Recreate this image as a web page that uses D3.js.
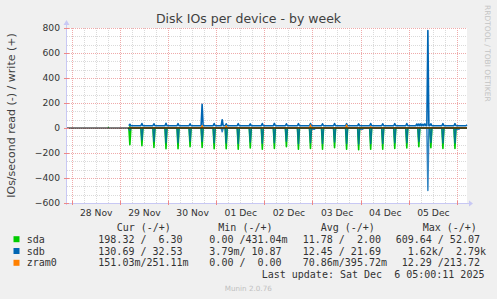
<!DOCTYPE html>
<html>
<head>
<meta charset="utf-8">
<script src="https://cdn.jsdelivr.net/npm/d3@7"></script>
<style>
  body { margin: 0; background: #f0f0f0; }
  svg { display: block; }
  text { white-space: pre; }
</style>
</head>
<body>
<svg id="chart" width="497" height="299"></svg>
<script>
var parse = d3.timeParse("%Y-%m-%d %H:%M");

var yTicks = [-600, -400, -200, 0, 200, 400, 600, 800];
var dayLabels = ["28 Nov", "29 Nov", "30 Nov", "01 Dec", "02 Dec", "03 Dec", "04 Dec", "05 Dec"];

// the recurring read bursts (every 6h)
var spikeTimes = [
  "2025-11-29 05:00", "2025-11-29 11:00", "2025-11-29 17:00", "2025-11-29 23:00",
  "2025-11-30 05:00", "2025-11-30 11:00", "2025-11-30 17:00", "2025-11-30 23:00",
  "2025-12-01 05:00", "2025-12-01 11:00", "2025-12-01 17:00", "2025-12-01 23:00",
  "2025-12-02 05:00", "2025-12-02 11:00", "2025-12-02 17:00", "2025-12-02 23:00",
  "2025-12-03 05:00", "2025-12-03 11:00", "2025-12-03 17:00", "2025-12-03 23:00",
  "2025-12-04 05:00", "2025-12-04 11:00", "2025-12-04 17:00", "2025-12-04 23:00",
  "2025-12-05 05:00", "2025-12-05 11:00", "2025-12-05 17:00", "2025-12-05 23:00"
];
// IOs/s at each burst (reads are drawn below zero)
var sdaRead  = [134, 142, 155, 165, 165, 150, 155, 165, 165, 170, 160, 170, 163, 150, 170, 163,
                170, 157, 170, 173, 170, 170, 163, 160, 150, 158, 163, 163];
var sdaWrite = [15, 3, 3, 3, 3, 3, 3, 3, 3, 3, 3, 3, 3, 3, 3, 3, 3, 3, 3, 3, 3, 3, 3, 3, 3, 3, 3, 3];
var sdbRead  = [20, 95, 108, 118, 118, 105, 107, 118, 120, 124, 112, 122, 118, 105, 125, 118,
                124, 112, 124, 128, 124, 124, 118, 118, 108, 115, 120, 120];
var sdbWrite = [30, 36, 34, 38, 35, 34, 190, 36, 34, 35, 33, 36, 37, 34, 35, 36,
                34, 36, 35, 33, 36, 34, 35, 36, 32, 34, 35, 35];

// odd samples outside the regular bursts
var sdbReadExtraTimes  = ["2025-12-01 03:00", "2025-12-03 00:00", "2025-12-03 00:30", "2025-12-03 01:00",
                          "2025-12-04 00:00", "2025-12-04 00:30", "2025-12-04 01:00", "2025-12-05 09:30",
                          "2025-12-06 00:00", "2025-12-06 00:30", "2025-12-06 01:00"];
var sdbReadExtra       = [30, 10, 10, 10, 10, 10, 10, 500, 10, 10, 10];
var sdbWriteExtraTimes = ["2025-12-01 03:00", "2025-12-05 04:00", "2025-12-05 06:00", "2025-12-05 07:00",
                          "2025-12-05 08:00", "2025-12-05 09:30", "2025-12-06 05:00"];
var sdbWriteExtra      = [66, 32, 33, 30, 34, 780, 26];
var zramWriteTimes     = ["2025-11-30 17:00", "2025-12-01 05:00", "2025-12-02 23:00", "2025-12-03 17:00", "2025-12-04 05:00"];
var zramWrite          = [20, 18, 25, 25, 12];
var sdaEarlyTimes      = ["2025-11-28 18:00", "2025-11-28 18:30"];
var sdaEarly           = [6, 6];

var baseSdaRead = 0.5, baseSdaWrite = 2, baseSdbRead = 0.5, baseSdbWrite = 18, baseZram = 0.4;

var names  = ["sda", "sdb", "zram0"];
var colors = ["#00cc00", "#0066b3", "#ff8000"];
var curVals = ["198.32 /  6.30 ", "130.69 / 32.53 ", "151.03m/251.11m"];
var minVals = ["  0.00 /431.04m", "  3.79m/ 10.87 ", "  0.00 /  0.00 "];
var avgVals = [" 11.78 /  2.00 ", " 12.45 / 21.69 ", " 70.86m/395.72m"];
var maxVals = ["609.64 / 52.07 ", "  1.62k/  2.79k", " 12.29 /213.72 "];

var startTime = parse("2025-11-27 21:40");
var endTime   = parse("2025-12-06 05:00");
var dataStart = parse("2025-11-29 04:30");

// ---- layout ----
var svg = d3.select("#chart");
var pL = 67, pR = 467, pT = 28, pB = 203;

var x = d3.scaleTime().domain([startTime, endTime]).range([pL, pR]);
var y = d3.scaleLinear().domain([-600, 800]).range([pB, pT]);

svg.append("rect").attr("width", 497).attr("height", 299).attr("fill", "#f0f0f0");
svg.append("rect").attr("x", pL).attr("y", pT).attr("width", pR - pL).attr("height", pB - pT).attr("fill", "#fff");

// grid
var minorY = [];
for (var v = -600; v <= 800; v += 200 / 3) {
  if (Math.abs(v / 200 - Math.round(v / 200)) > 0.01) minorY.push(v);
}
var minorX = d3.timeHour.every(6).range(startTime, endTime).filter(function(d) { return d.getHours() != 0; });
var days = d3.timeDay.range(d3.timeDay.ceil(startTime), endTime);

var grid = svg.append("g").attr("shape-rendering", "crispEdges");
grid.selectAll(".mx").data(minorX).enter().append("line")
  .attr("x1", function(d) { return Math.round(x(d)) + 0.5; }).attr("x2", function(d) { return Math.round(x(d)) + 0.5; })
  .attr("y1", pT).attr("y2", pB)
  .attr("stroke", "#dadada").attr("stroke-dasharray", "1,1");
grid.selectAll(".my").data(minorY).enter().append("line")
  .attr("y1", function(d) { return Math.round(y(d)) + 0.5; }).attr("y2", function(d) { return Math.round(y(d)) + 0.5; })
  .attr("x1", pL).attr("x2", pR)
  .attr("stroke", "#dadada").attr("stroke-dasharray", "1,1");
grid.selectAll(".Mx").data(days).enter().append("line")
  .attr("x1", function(d) { return Math.round(x(d)) + 0.5; }).attr("x2", function(d) { return Math.round(x(d)) + 0.5; })
  .attr("y1", pT).attr("y2", pB)
  .attr("stroke", "#efaaaa").attr("stroke-dasharray", "1,1");
grid.selectAll(".My").data(yTicks).enter().append("line")
  .attr("y1", function(d) { return Math.round(y(d)) + 0.5; }).attr("y2", function(d) { return Math.round(y(d)) + 0.5; })
  .attr("x1", pL).attr("x2", pR)
  .attr("stroke", "#efaaaa").attr("stroke-dasharray", "1,1");

// ---- series ----
var half = 30 * 60 * 1000;
function buildSeries(base, times, values, extraTimes, extraValues) {
  var m = new Map();
  var allT = times.concat(extraTimes || []), allV = values.concat(extraValues || []);
  allT.forEach(function(t, i) { m.set(+parse(t), allV[i]); });
  allT.forEach(function(t) {
    var k = +parse(t);
    [k - half, k + half].forEach(function(n) { if (!m.has(n) && n >= +dataStart && n <= +endTime) m.set(n, base); });
  });
  if (!m.has(+dataStart)) m.set(+dataStart, base);
  if (!m.has(+endTime)) m.set(+endTime, base);
  return Array.from(m, function(e) { return { t: new Date(e[0]), v: e[1] }; })
    .sort(function(a, b) { return a.t - b.t; });
}

var lineUp = d3.line().x(function(d) { return x(d.t); }).y(function(d) { return y(d.v); });
var lineDown = d3.line().x(function(d) { return x(d.t); }).y(function(d) { return y(-d.v); });

var series = [
  { pts: buildSeries(baseSdaRead, spikeTimes, sdaRead), line: lineDown, c: colors[0], w: 1.6, o: 1 },
  { pts: buildSeries(baseSdaWrite, spikeTimes, sdaWrite), line: lineUp, c: colors[0], w: 1, o: 1 },
  { pts: sdaEarlyTimes.map(function(t, i) { return { t: parse(t), v: sdaEarly[i] }; }), line: lineUp, c: colors[0], w: 1.2, o: 1 },
  { pts: buildSeries(baseSdbRead, spikeTimes, sdbRead, sdbReadExtraTimes, sdbReadExtra), line: lineDown, c: colors[1], w: 1.5, o: 0.8 },
  { pts: buildSeries(baseSdbWrite, spikeTimes, sdbWrite, sdbWriteExtraTimes, sdbWriteExtra), line: lineUp, c: colors[1], w: 1.6, o: 1 },
  { pts: buildSeries(baseZram, zramWriteTimes, zramWrite), line: lineUp, c: colors[2], w: 1.2, o: 1 }
];

svg.append("g").selectAll("path").data(series).enter().append("path")
  .attr("d", function(s) { return s.line(s.pts); })
  .attr("fill", "none")
  .attr("stroke", function(s) { return s.c; })
  .attr("stroke-width", function(s) { return s.w; })
  .attr("stroke-opacity", function(s) { return s.o; })
  .attr("stroke-linejoin", "round");

// zero rule
svg.append("line").attr("x1", pL).attr("x2", pR)
  .attr("y1", y(0)).attr("y2", y(0))
  .attr("stroke", "#000").attr("stroke-width", 1);

// axes lines + arrows
var axisColor = "#c8c8f4";
svg.append("line").attr("x1", pL - 0.5).attr("x2", pL - 0.5).attr("y1", pB + 2).attr("y2", pT - 5)
  .attr("stroke", axisColor);
svg.append("line").attr("x1", pL - 3).attr("x2", pR + 2).attr("y1", pB + 0.5).attr("y2", pB + 0.5)
  .attr("stroke", axisColor);
svg.append("path").attr("d", "M" + (pL - 3.5) + "," + (pT - 3) + "L" + (pL - 0.5) + "," + (pT - 8) + "L" + (pL + 2.5) + "," + (pT - 3) + "Z")
  .attr("fill", axisColor);
svg.append("path").attr("d", "M" + (pR + 2) + "," + (pB - 2.5) + "L" + (pR + 6) + "," + (pB + 0.5) + "L" + (pR + 2) + "," + (pB + 3.5) + "Z")
  .attr("fill", axisColor);

// axis ticks
var ticks = svg.append("g").attr("shape-rendering", "crispEdges");
ticks.selectAll(".tx").data(days).enter().append("line")
  .attr("x1", function(d) { return Math.round(x(d)) + 0.5; }).attr("x2", function(d) { return Math.round(x(d)) + 0.5; })
  .attr("y1", pB - 2).attr("y2", pB + 2).attr("stroke", "#ee8888");
ticks.selectAll(".ty").data(yTicks).enter().append("line")
  .attr("y1", function(d) { return Math.round(y(d)) + 0.5; }).attr("y2", function(d) { return Math.round(y(d)) + 0.5; })
  .attr("x1", pL - 3).attr("x2", pL + 2).attr("stroke", "#ee8888");

// tick labels via d3 axes
var yAxis = svg.append("g").attr("transform", "translate(" + pL + ",0)")
  .call(d3.axisLeft(y).tickValues(yTicks).tickSize(0).tickPadding(7));
yAxis.select(".domain").remove();
yAxis.selectAll("text").attr("font-family", "DejaVu Sans").attr("font-size", 9.2).attr("fill", "#333");

var noons = days.slice(0, dayLabels.length).map(function(d) { return d3.timeHour.offset(d, 12); });
var xAxis = svg.append("g").attr("transform", "translate(0," + pB + ")")
  .call(d3.axisBottom(x).tickValues(noons).tickSize(0).tickPadding(6)
    .tickFormat(function(d, i) { return dayLabels[i]; }));
xAxis.select(".domain").remove();
xAxis.selectAll("text").attr("font-family", "DejaVu Sans").attr("font-size", 9.2).attr("fill", "#333");

// titles
svg.append("text").attr("x", 248.5).attr("y", 23).attr("text-anchor", "middle")
  .attr("font-family", "DejaVu Sans").attr("font-size", 12.5).attr("fill", "#404040")
  .text("Disk IOs per device - by week");
svg.append("text").attr("transform", "translate(14.5," + ((pT + pB) / 2) + ") rotate(-90)")
  .attr("text-anchor", "middle").attr("font-family", "DejaVu Sans").attr("font-size", 11).attr("fill", "#404040")
  .text("IOs/second read (-) / write (+)");
svg.append("text").attr("transform", "translate(485,5) rotate(90)")
  .attr("font-family", "DejaVu Sans").attr("font-size", 7.5).attr("fill", "#c4c4c4")
  .text("RRDTOOL / TOBI OETIKER");

// legend
var mono = "DejaVu Sans Mono";
var headers = [["Cur (-/+)", 116.7], ["Min (-/+)", 218.3], ["Avg (-/+)", 320.7], ["Max (-/+)", 422.7]];
svg.selectAll(".hdr").data(headers).enter().append("text")
  .attr("x", function(d) { return d[1]; }).attr("y", 230.8)
  .attr("font-family", mono).attr("font-size", 10).attr("fill", "#333")
  .text(function(d) { return d[0]; });

var cols = [[curVals, 98.3], [minVals, 197.3], [avgVals, 296.7], [maxVals, 395.7]];
names.forEach(function(n, i) {
  var by = 242.7 + i * 11.8;
  svg.append("rect").attr("x", 13.5).attr("y", by - 6.5).attr("width", 6).attr("height", 6).attr("fill", colors[i]);
  svg.append("text").attr("x", 26.7).attr("y", by).attr("font-family", mono).attr("font-size", 10).attr("fill", "#333").text(n);
  cols.forEach(function(c) {
    svg.append("text").attr("x", c[1]).attr("y", by).attr("font-family", mono).attr("font-size", 10).attr("fill", "#333")
      .attr("xml:space", "preserve").text(c[0][i]);
  });
});
svg.append("text").attr("x", 261.7).attr("y", 278.2).attr("font-family", mono).attr("font-size", 10).attr("fill", "#333")
  .attr("xml:space", "preserve").text("Last update: Sat Dec  6 05:00:11 2025");
svg.append("text").attr("x", 248.3).attr("y", 290.5).attr("text-anchor", "middle")
  .attr("font-family", "DejaVu Sans").attr("font-size", 7.2).attr("fill", "#c0c0c0")
  .text("Munin 2.0.76");
</script>
</body>
</html>
